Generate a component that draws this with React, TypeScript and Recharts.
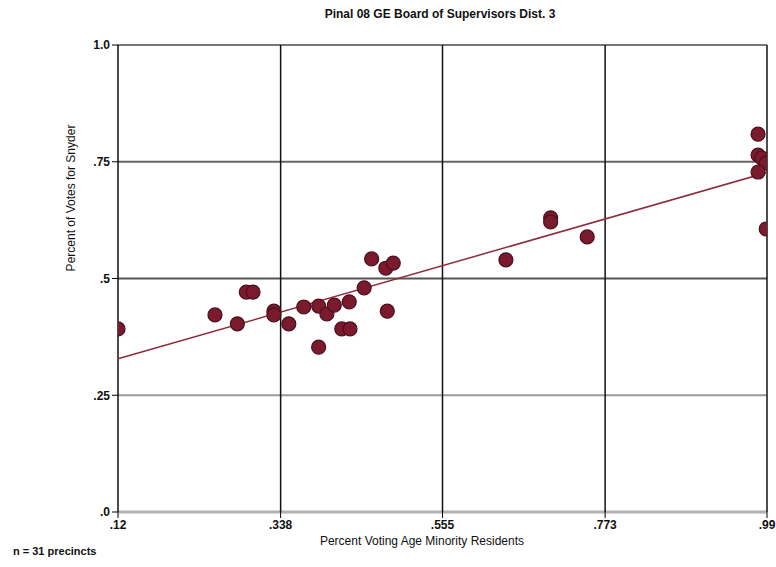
import React from 'react';
import { ScatterChart, Scatter, XAxis, YAxis, ReferenceLine } from 'recharts';

const minorityPct = [0.12, 0.25, 0.28, 0.292, 0.301, 0.329, 0.329, 0.349, 0.369, 0.389, 0.4, 0.41, 0.389, 0.42, 0.431, 0.43, 0.45, 0.46, 0.479, 0.489, 0.481, 0.64, 0.7, 0.7, 0.749, 0.978, 0.978, 0.983, 0.989, 0.978, 0.989];
const snyderPct = [0.392, 0.422, 0.403, 0.471, 0.471, 0.43, 0.422, 0.403, 0.439, 0.441, 0.424, 0.443, 0.353, 0.392, 0.392, 0.45, 0.48, 0.542, 0.522, 0.533, 0.43, 0.54, 0.63, 0.621, 0.589, 0.809, 0.764, 0.758, 0.747, 0.728, 0.606];

const xTicks = [0.12, 0.338, 0.555, 0.773, 0.99];
const xTickLabels = ['.12', '.338', '.555', '.773', '.99'];
const yTicks = [0, 0.25, 0.5, 0.75, 1.0];
const yTickLabels = ['.0', '.25', '.5', '.75', '1.0'];

const trendX = [0.12, 0.99];
const trendY = [0.328, 0.727];

const points = minorityPct.map((x, i) => ({ x, y: snyderPct[i] }));

const hLineStyle: Record<number, { stroke: string; w: number }> = {
  0: { stroke: '#b0b0b0', w: 3 },
  0.25: { stroke: '#9a9a9a', w: 2 },
  0.5: { stroke: '#555555', w: 2 },
  0.75: { stroke: '#666666', w: 2 },
  1: { stroke: '#777777', w: 2 },
};

const font = '"Liberation Sans Narrow", "Liberation Sans", Arial, sans-serif';

const Dot = (props: any) => {
  const { cx, cy } = props;
  if (cx == null || cy == null) return null;
  return <circle cx={cx} cy={cy} r={7} fill="#7a1a2c" stroke="#4a0f1c" strokeWidth={1.2} />;
};

export default function App() {
  return (
    <div style={{ position: 'absolute', left: 0, top: 0, width: 776, height: 567, background: '#fff' }}>
      <ScatterChart width={776} height={567} margin={{ top: 45, right: 9, bottom: 0, left: 0 }}>
        <XAxis
          type="number"
          dataKey="x"
          domain={[0.12, 0.99]}
          ticks={xTicks}
          tickFormatter={(v: number) => xTickLabels[xTicks.indexOf(v)] ?? ''}
          height={55}
          axisLine={false}
          tickLine={{ stroke: '#000' }}
          tick={{ fill: '#111', fontSize: 12, fontFamily: font, fontWeight: 'bold' }}
          allowDataOverflow
        />
        <YAxis
          type="number"
          dataKey="y"
          domain={[0, 1]}
          ticks={yTicks}
          tickFormatter={(v: number) => yTickLabels[yTicks.indexOf(v)] ?? ''}
          width={118}
          axisLine={false}
          tickLine={{ stroke: '#000' }}
          tick={{ fill: '#111', fontSize: 12, fontFamily: font, fontWeight: 'bold' }}
          allowDataOverflow
        />
        {yTicks.map((t) => (
          <ReferenceLine key={'h' + t} y={t} stroke={hLineStyle[t].stroke} strokeWidth={hLineStyle[t].w} />
        ))}
        {xTicks.map((t) => (
          <ReferenceLine key={'v' + t} x={t} stroke="#111" strokeWidth={1.5} />
        ))}
        <ReferenceLine
          segment={[{ x: trendX[0], y: trendY[0] }, { x: trendX[1], y: trendY[1] }]}
          stroke="#8e2c3c"
          strokeWidth={1.5}
        />
        <Scatter data={points} shape={<Dot />} isAnimationActive={false} />
      </ScatterChart>
      <svg width={776} height={567} style={{ position: 'absolute', left: 0, top: 0, pointerEvents: 'none' }}>
        <text x={440} y={18} textAnchor="middle" fontFamily={font} fontWeight="bold" fontSize={12} fill="#111">
          Pinal 08 GE Board of Supervisors Dist. 3
        </text>
        <text x={422} y={545} textAnchor="middle" fontFamily={font} fontSize={12} fill="#111">
          Percent Voting Age Minority Residents
        </text>
        <text
          x={0}
          y={0}
          transform="translate(75,198) rotate(-90)"
          textAnchor="middle"
          fontFamily={font}
          fontSize={12}
          fill="#111"
        >
          Percent of Votes for Snyder
        </text>
        <text x={13} y={555} fontFamily={font} fontWeight="bold" fontSize={11} fill="#111">
          n = 31 precincts
        </text>
      </svg>
    </div>
  );
}
